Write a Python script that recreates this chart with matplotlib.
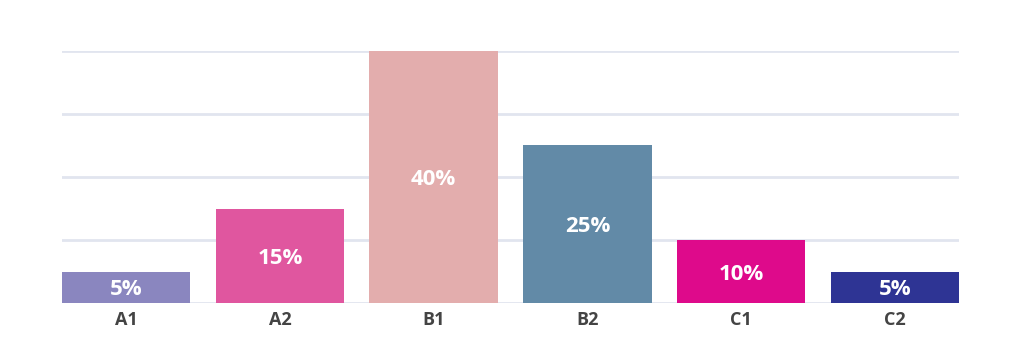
import matplotlib
matplotlib.use("Agg")
import matplotlib.pyplot as plt

# Data
categories = ["A1", "A2", "B1", "B2", "C1", "C2"]
values = [5, 15, 40, 25, 10, 5]
colors = ["#8a86bf", "#e0569f", "#e3adad", "#628aa7", "#de0a8b", "#2e3494"]

plt.rcParams['font.family'] = ['Open Sans', 'DejaVu Sans']

fig = plt.figure(figsize=(10.24, 3.46), dpi=100)
ax = fig.add_axes([62 / 1024, 43 / 346, 897 / 1024, 252 / 346])

x = range(len(categories))
bars = ax.bar(x, values, width=0.835, color=colors, zorder=3)

for bar, v in zip(bars, values):
    ax.text(bar.get_x() + bar.get_width() / 2, v / 2, f"{v}%",
            ha="center", va="center_baseline", color="white",
            fontsize=16, fontweight="bold", zorder=4)

ax.set_xlim(-0.4175, len(categories) - 1 + 0.4175)
ax.set_ylim(0, 40)
ax.set_yticks([0, 10, 20, 30, 40])
ax.yaxis.grid(True, color="#e1e5ef", linewidth=2, zorder=0)
ax.set_yticklabels([])
ax.tick_params(axis="y", length=0)

ax.set_xticks(list(x))
ax.set_xticklabels(categories, fontsize=13, fontweight="bold", color="#444444")
ax.tick_params(axis="x", length=0, pad=6)

for s in ax.spines.values():
    s.set_visible(False)

fig.savefig("out.png", dpi=100)
